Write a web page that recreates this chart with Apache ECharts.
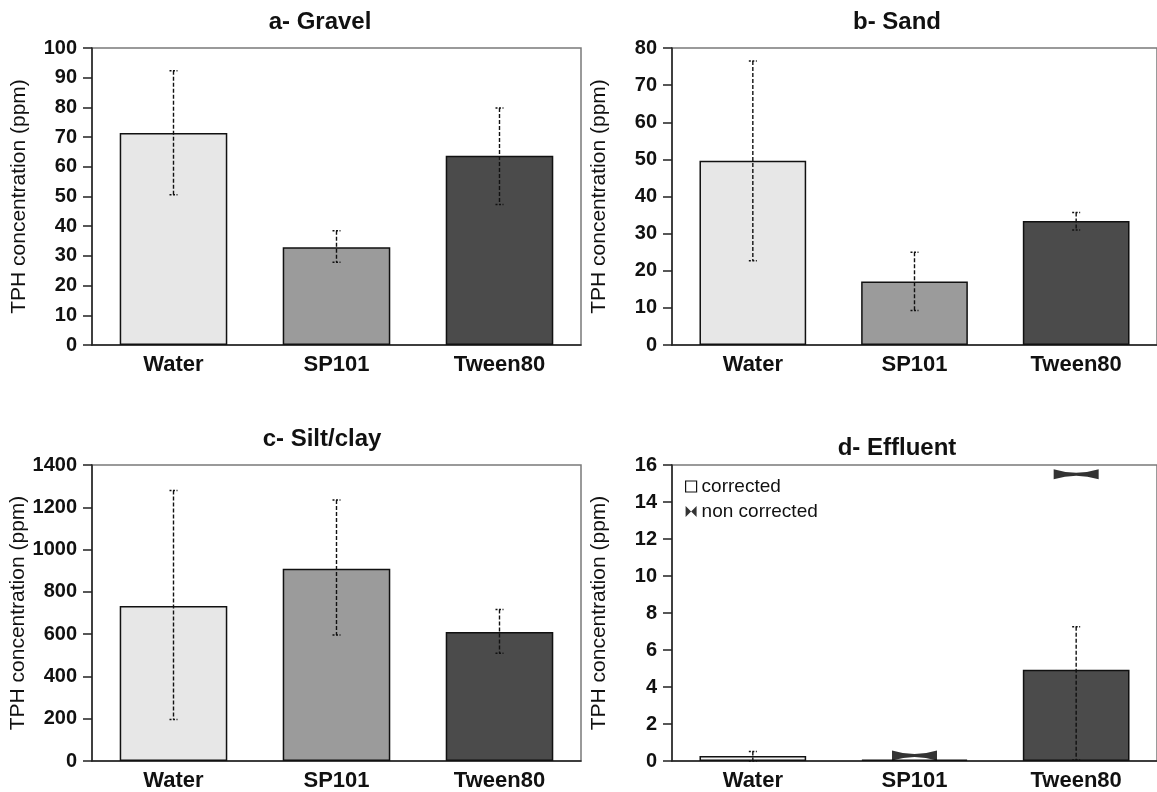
<!DOCTYPE html>
<html>
<head>
<meta charset="utf-8">
<script src="https://cdn.jsdelivr.net/npm/echarts@6/dist/echarts.min.js"></script>
<style>
  html, body { margin: 0; padding: 0; background: #fff; }
  #chart { width: 1157px; height: 792px; }
</style>
</head>
<body>
<div id="chart"></div>
<script>
// categories and values
const categories = ['Water', 'SP101', 'Tween80'];

const gravelMean = [71.4, 32.9, 63.7];
const gravelLow = [50.6, 27.9, 47.3];
const gravelHigh = [92.3, 38.5, 79.8];

const sandMean = [49.6, 17.1, 33.4];
const sandLow = [22.7, 9.3, 31.0];
const sandHigh = [76.5, 25.0, 35.7];

const siltMean = [733, 909, 610];
const siltLow = [196, 596, 510];
const siltHigh = [1279, 1235, 717];

const effluentMean = [0.27, 0.08, 4.93];
const effluentLow = [0.0, null, 0.05];
const effluentHigh = [0.52, null, 7.26];
const effluentNonCorrected = [null, 0.3, 15.5];

const panels = [
  { title: 'a- Gravel', max: 100, interval: 10, mean: gravelMean, low: gravelLow, high: gravelHigh },
  { title: 'b- Sand', max: 80, interval: 10, mean: sandMean, low: sandLow, high: sandHigh },
  { title: 'c- Silt/clay', max: 1400, interval: 200, mean: siltMean, low: siltLow, high: siltHigh },
  { title: 'd- Effluent', max: 16, interval: 2, mean: effluentMean, low: effluentLow, high: effluentHigh }
];

const barColors = ['#e7e7e7', '#9b9b9b', '#4b4b4b'];
const effluentColors = ['#f4f4f4', '#9b9b9b', '#4b4b4b'];
const font = 'Liberation Sans, Arial, sans-serif';

const grids = [
  { left: 92, top: 48, width: 489, height: 297 },
  { left: 672, top: 48, width: 488, height: 297 },
  { left: 92, top: 465, width: 489, height: 297 },
  { left: 672, top: 465, width: 488, height: 297 }
];
const titlePos = [[315, 5], [892, 5], [317, 422], [892, 431]];

const bowtie = 'path://M0,0 L0,10 Q22,3 44,10 L44,0 Q22,7 0,0 Z';
const bowtieIcon = 'path://M0,0 L5,5 L0,10 Z M10,0 L5,5 L10,10 Z';

function errorBar(params, api) {
  const x = api.value(0);
  const lo = api.coord([x, api.value(1)]);
  const hi = api.coord([x, api.value(2)]);
  const cap = 4;
  const dash = { stroke: '#111', lineWidth: 1.4, lineDash: [4, 2] };
  const capStyle = { stroke: '#111', lineWidth: 1.5, lineDash: [2, 1.5] };
  return {
    type: 'group',
    children: [
      { type: 'line', shape: { x1: hi[0], y1: hi[1], x2: lo[0], y2: lo[1] }, style: dash },
      { type: 'line', shape: { x1: hi[0] - cap, y1: hi[1], x2: hi[0] + cap, y2: hi[1] }, style: capStyle },
      { type: 'line', shape: { x1: lo[0] - cap, y1: lo[1], x2: lo[0] + cap, y2: lo[1] }, style: capStyle }
    ]
  };
}

const chart = echarts.init(document.getElementById('chart'));

const series = [];
panels.forEach((p, i) => {
  const colors = i === 3 ? effluentColors : barColors;
  series.push({
    name: i === 3 ? 'corrected' : p.title,
    type: 'bar',
    xAxisIndex: i,
    yAxisIndex: i,
    barWidth: '66%',
    itemStyle: { borderColor: '#111', borderWidth: 1.5 },
    data: p.mean.map((v, k) => ({ value: v, itemStyle: { color: colors[k] } })),
    z: 2
  });
  series.push({
    type: 'custom',
    xAxisIndex: i,
    yAxisIndex: i,
    renderItem: errorBar,
    encode: { x: 0, y: [1, 2] },
    data: p.low.map((v, k) => [k, v, p.high[k]]).filter(d => d[1] != null),
    z: 3
  });
});
series.push({
  name: 'non corrected',
  type: 'scatter',
  xAxisIndex: 3,
  yAxisIndex: 3,
  symbol: bowtie,
  symbolSize: [45, 10],
  itemStyle: { color: '#000' },
  data: effluentNonCorrected.map((v, k) => [k, v]).filter(d => d[1] != null),
  z: 4
});

chart.setOption({
  animation: false,
  title: panels.map((p, i) => ({
    text: p.title,
    left: titlePos[i][0],
    top: titlePos[i][1],
    textAlign: 'center',
    textStyle: { fontFamily: font, fontSize: 24, fontWeight: 'bold', color: '#111' }
  })),
  legend: {
    orient: 'vertical',
    left: 680,
    top: 472,
    itemWidth: 11,
    itemHeight: 11,
    itemGap: 6,
    textStyle: { fontFamily: font, fontSize: 19, color: '#111', padding: [0, 0, 0, 0] },
    data: [
      { name: 'corrected', icon: 'rect', itemStyle: { color: '#fff', borderColor: '#111', borderWidth: 1.2 } },
      { name: 'non corrected', icon: bowtieIcon, itemStyle: { color: '#000' } }
    ]
  },
  grid: grids.map(g => Object.assign({ show: true, borderColor: '#7a7a7a', borderWidth: 1.5 }, g)),
  xAxis: panels.map((p, i) => ({
    type: 'category',
    gridIndex: i,
    data: categories,
    axisLine: { show: true, lineStyle: { color: '#222', width: 1.5 } },
    axisTick: { show: false },
    axisLabel: { fontFamily: font, fontSize: 22, fontWeight: 'bold', color: '#111', margin: 9 }
  })),
  yAxis: panels.map((p, i) => ({
    type: 'value',
    gridIndex: i,
    min: 0,
    max: p.max,
    interval: p.interval,
    name: 'TPH concentration (ppm)',
    nameLocation: 'middle',
    nameGap: 62,
    nameTextStyle: { fontFamily: font, fontSize: 21, color: '#111' },
    splitLine: { show: false },
    axisLine: { show: true, lineStyle: { color: '#222', width: 1.5 } },
    axisTick: { show: true, length: 9, lineStyle: { color: '#222', width: 1.5 } },
    axisLabel: {
      fontFamily: font, fontSize: 20, fontWeight: 'bold', color: '#111', margin: 15,
      formatter: v => String(v)
    }
  })),
  series: series
});
</script>
</body>
</html>
